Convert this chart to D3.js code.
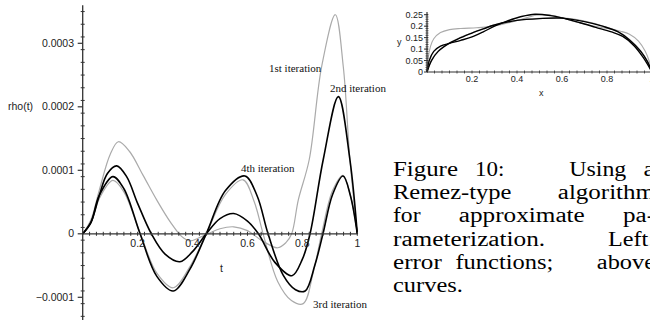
<!DOCTYPE html>
<html>
<head>
<meta charset="utf-8">
<script src="https://cdn.jsdelivr.net/npm/d3@7"></script>
<style>
  html, body { margin: 0; padding: 0; background: #fff; }
  svg { display: block; }
</style>
</head>
<body>
<svg id="fig" width="650" height="320"></svg>
<script>
// Error functions rho(t) for successive iterations: [t, rho]
const iter1 = [[0,0],[0.03,0.000022],[0.06,0.000068],[0.1,0.000125],[0.13,0.000145],[0.17,0.00013],[0.22,0.000092],[0.27,0.000053],[0.32,0.000018],[0.36,-0.000004],[0.39,-0.000011],[0.42,-0.000007],[0.456,0],[0.5,0.000008],[0.55,0.000011],[0.6,0.000005],[0.65,-0.00001],[0.71,-0.000022],[0.74,-0.000014],[0.761,0],[0.785,0.000053],[0.825,0.000117],[0.87,0.000263],[0.92,0.000345],[0.949,0.000263],[0.973,0.000117],[1,0]];
const iter2 = [[0,0],[0.03,0.000018],[0.06,0.00006],[0.09,0.000095],[0.124,0.000107],[0.16,0.00009],[0.2,0.000048],[0.25,0],[0.3,-0.000032],[0.354,-0.000044],[0.4,-0.000028],[0.45,0],[0.5,0.000024],[0.55,0.000032],[0.6,0.00002],[0.64,0],[0.7,-0.000045],[0.762,-0.000066],[0.8,-0.00004],[0.828,0],[0.876,0.000117],[0.931,0.000216],[0.973,0.000117],[1,0]];
const iter3 = [[0,0],[0.03,0.000017],[0.06,0.000055],[0.11,0.000084],[0.15,0.000066],[0.21,0],[0.27,-0.000062],[0.33,-0.000085],[0.39,-0.000052],[0.45,0],[0.52,0.000062],[0.584,0.000085],[0.625,0.00005],[0.657,0],[0.71,-0.000075],[0.76,-0.000105],[0.803,-0.00011],[0.84,-0.00006],[0.87,0],[0.91,0.000068],[0.948,0.000092],[0.975,0.00006],[1,0]];
const iter4 = [[0,0],[0.03,0.000018],[0.06,0.00006],[0.11,0.00009],[0.15,0.000071],[0.209,0],[0.27,-0.000067],[0.33,-0.00009],[0.39,-0.000056],[0.45,0],[0.52,0.000068],[0.591,0.000091],[0.635,0.00006],[0.675,0],[0.73,-0.000065],[0.775,-0.000088],[0.81,-0.00009],[0.845,-0.00005],[0.875,0],[0.91,0.000062],[0.948,0.000091],[0.975,0.00006],[1,0]];

// Curves (x, y) produced by each iteration
const curve1 = [[0,0],[0.005,0.06],[0.015,0.11],[0.03,0.145],[0.06,0.172],[0.1,0.185],[0.15,0.19],[0.22,0.193],[0.28,0.198],[0.35,0.212],[0.42,0.23],[0.5,0.25],[0.58,0.242],[0.65,0.222],[0.72,0.205],[0.8,0.19],[0.86,0.178],[0.9,0.165],[0.94,0.135],[0.97,0.09],[0.99,0.04],[1,0]];
const curve2 = [[0,0],[0.01,0.05],[0.03,0.09],[0.06,0.113],[0.1,0.125],[0.15,0.138],[0.2,0.153],[0.25,0.175],[0.3,0.2],[0.35,0.22],[0.42,0.242],[0.48,0.252],[0.55,0.246],[0.6,0.236],[0.68,0.215],[0.75,0.195],[0.82,0.175],[0.87,0.155],[0.92,0.115],[0.96,0.065],[1,0]];
const curve3 = [[0,0],[0.02,0.052],[0.05,0.092],[0.1,0.127],[0.15,0.152],[0.2,0.171],[0.25,0.189],[0.3,0.206],[0.4,0.226],[0.5,0.234],[0.6,0.236],[0.7,0.222],[0.78,0.201],[0.85,0.176],[0.9,0.142],[0.95,0.092],[0.98,0.046],[1,0]];
const curve4 = [[0,0],[0.02,0.05],[0.05,0.09],[0.1,0.126],[0.15,0.15],[0.2,0.17],[0.25,0.188],[0.3,0.205],[0.4,0.225],[0.5,0.233],[0.6,0.235],[0.7,0.22],[0.78,0.2],[0.85,0.175],[0.9,0.14],[0.95,0.09],[0.98,0.045],[1,0]];

const rhoTicks = [-0.0001, 0, 0.0001, 0.0002, 0.0003];
const rhoTickLabels = ["\u22120.0001", "0", "0.0001", "0.0002", "0.0003"];
const tTicks = [0.2, 0.4, 0.6, 0.8, 1];
const tTickLabels = ["0.2", "0.4", "0.6", "0.8", "1"];
const yTicks = [0, 0.05, 0.1, 0.15, 0.2, 0.25];
const yTickLabels = ["0", "0.05", "0.1", "0.15", "0.2", "0.25"];
const xTicks = [0.2, 0.4, 0.6, 0.8, 1];
const xTickLabels = ["0.2", "0.4", "0.6", "0.8", "1"];

const iterationNames = ["1st iteration", "2nd iteration", "3rd iteration", "4th iteration"];
const captionLines = [
  ["Figure", "10:", "Using", "a"],
  ["Remez-type", "algorithm"],
  ["for", "approximate", "pa-"],
  ["rameterization.", "Left:"],
  ["error", "functions;", "above"],
  ["curves."]
];

const GREY = "#aaaaaa", BLACK = "#000000", AXIS = "#333333";
const svg = d3.select("#fig");
const sans = "'Liberation Sans', Arial, sans-serif";
const serif = "'Liberation Serif', 'Times New Roman', serif";

// ---------- left: error functions ----------
const x = d3.scaleLinear().domain([0, 1]).range([82.7, 357.3]);
const y = d3.scaleLinear().domain([-0.0001, 0.0003]).range([297.3, 43.3]);
const left = svg.append("g");

const line = d3.line().x(d => x(d[0])).y(d => y(d[1])).curve(d3.curveCatmullRom.alpha(0.5));
const series = [
  { data: iter1, color: GREY, w: 1.2 },
  { data: iter3, color: GREY, w: 1.2 },
  { data: iter2, color: BLACK, w: 1.6 },
  { data: iter4, color: BLACK, w: 1.6 }
];
left.selectAll("path.err").data(series).join("path")
  .attr("class", "err")
  .attr("d", s => line(s.data))
  .attr("fill", "none").attr("stroke", s => s.color).attr("stroke-width", s => s.w);

// axes
const y0 = y(0), x0 = x(0);
left.append("line").attr("x1", x0).attr("x2", x(1)).attr("y1", y0).attr("y2", y0)
  .attr("stroke", AXIS).attr("stroke-width", 1.3);
left.append("line").attr("x1", x0).attr("x2", x0).attr("y1", y(0.00036)).attr("y2", 320)
  .attr("stroke", AXIS).attr("stroke-width", 1.3);

const yMinor = d3.range(-0.00013, 0.00036, 0.00002).map(v => +v.toFixed(6));
left.selectAll("line.ymin").data(yMinor).join("line").attr("class", "ymin")
  .attr("x1", x0 - 2).attr("x2", x0 + 2).attr("y1", d => y(d)).attr("y2", d => y(d))
  .attr("stroke", AXIS).attr("stroke-width", 1);
left.selectAll("line.ymaj").data(rhoTicks).join("line").attr("class", "ymaj")
  .attr("x1", x0 - 5).attr("x2", x0).attr("y1", d => y(d)).attr("y2", d => y(d))
  .attr("stroke", AXIS).attr("stroke-width", 1.2);
left.selectAll("text.ylab").data(rhoTicks).join("text").attr("class", "ylab")
  .attr("x", 74).attr("y", d => y(d)).attr("dy", "0.35em")
  .attr("text-anchor", "end").attr("font-family", sans).attr("font-size", 10.5).attr("fill", "#222")
  .text((d, i) => rhoTickLabels[i]);

const xMinor = d3.range(0.025, 1.0001, 0.025);
left.selectAll("line.xmin").data(xMinor).join("line").attr("class", "xmin")
  .attr("x1", d => x(d)).attr("x2", d => x(d)).attr("y1", y0 - 2).attr("y2", y0 + 2)
  .attr("stroke", AXIS).attr("stroke-width", 1);
left.selectAll("text.xlab").data(tTicks).join("text").attr("class", "xlab")
  .attr("x", d => x(d)).attr("y", y0 + 13)
  .attr("text-anchor", "middle").attr("font-family", sans).attr("font-size", 10.5).attr("fill", "#222")
  .text((d, i) => tTickLabels[i]);

left.append("text").attr("x", 8).attr("y", y(0.0002)).attr("dy", "0.35em")
  .attr("font-family", sans).attr("font-size", 10.5).attr("fill", "#222").text("rho(t)");
left.append("text").attr("x", 220).attr("y", 272)
  .attr("font-family", sans).attr("font-size", 10.5).attr("fill", "#222").text("t");

// iteration labels
const labelPos = [[269, 72], [330, 92], [313, 308], [241, 172]];
left.selectAll("text.iter").data(iterationNames).join("text").attr("class", "iter")
  .attr("x", (d, i) => labelPos[i][0]).attr("y", (d, i) => labelPos[i][1])
  .attr("font-family", serif).attr("font-size", 11).attr("fill", "#111").text(d => d);

// ---------- top right: curves ----------
const xs = d3.scaleLinear().domain([0, 1]).range([427, 652]);
const ys = d3.scaleLinear().domain([0, 0.25]).range([72, 14.7]);
const right = svg.append("g");
const line2 = d3.line().x(d => xs(d[0])).y(d => ys(d[1])).curve(d3.curveCatmullRom.alpha(0.5));
const cseries = [
  { data: curve1, color: GREY, w: 1.1 },
  { data: curve3, color: GREY, w: 1.1 },
  { data: curve2, color: BLACK, w: 1.4 },
  { data: curve4, color: BLACK, w: 1.4 }
];
right.selectAll("path.cur").data(cseries).join("path").attr("class", "cur")
  .attr("d", s => line2(s.data)).attr("fill", "none")
  .attr("stroke", s => s.color).attr("stroke-width", s => s.w);

const sx0 = xs(0), sy0 = ys(0);
right.append("line").attr("x1", sx0).attr("x2", 650).attr("y1", sy0).attr("y2", sy0)
  .attr("stroke", AXIS).attr("stroke-width", 1.2);
right.append("line").attr("x1", sx0).attr("x2", sx0).attr("y1", ys(0.262)).attr("y2", sy0)
  .attr("stroke", AXIS).attr("stroke-width", 1.2);
right.selectAll("line.symaj").data(yTicks).join("line").attr("class", "symaj")
  .attr("x1", sx0 - 3).attr("x2", sx0 + 1).attr("y1", d => ys(d)).attr("y2", d => ys(d))
  .attr("stroke", AXIS).attr("stroke-width", 1);
right.selectAll("line.symin").data(d3.range(0.01, 0.26, 0.01)).join("line").attr("class", "symin")
  .attr("x1", sx0 - 1.5).attr("x2", sx0 + 1.5).attr("y1", d => ys(d)).attr("y2", d => ys(d))
  .attr("stroke", AXIS).attr("stroke-width", 0.8);
right.selectAll("line.sxmin").data(d3.range(1 / 30, 1.0001, 1 / 30)).join("line").attr("class", "sxmin")
  .attr("x1", d => xs(d)).attr("x2", d => xs(d)).attr("y1", sy0 - 1.5).attr("y2", sy0 + 1.5)
  .attr("stroke", AXIS).attr("stroke-width", 0.8);
right.selectAll("text.sylab").data(yTicks).join("text").attr("class", "sylab")
  .attr("x", 423).attr("y", d => ys(d)).attr("dy", "0.35em").attr("text-anchor", "end")
  .attr("font-family", sans).attr("font-size", 9).attr("fill", "#222")
  .text((d, i) => yTickLabels[i]);
right.selectAll("text.sxlab").data(xTicks).join("text").attr("class", "sxlab")
  .attr("x", d => xs(d)).attr("y", 82).attr("text-anchor", "middle")
  .attr("font-family", sans).attr("font-size", 9).attr("fill", "#222")
  .text((d, i) => xTickLabels[i]);
right.append("text").attr("x", 397).attr("y", 45).attr("font-family", sans)
  .attr("font-size", 9).attr("fill", "#222").text("y");
right.append("text").attr("x", 539).attr("y", 96).attr("font-family", sans)
  .attr("font-size", 9).attr("fill", "#222").text("x");

// ---------- caption, justified between the margins ----------
// Word widths follow Computer Modern Roman advance widths (em units);
// inter-word glue stretches more after sentence punctuation.
const cmWidth = {
  a:.5,b:.556,c:.444,d:.556,e:.444,f:.306,g:.5,h:.556,i:.278,j:.306,k:.528,l:.278,m:.833,
  n:.556,o:.5,p:.556,q:.528,r:.392,s:.394,t:.389,u:.556,v:.528,w:.722,x:.528,y:.528,z:.444,
  F:.653,L:.625,R:.736,U:.75,"0":.5,"1":.5,":":.278,";":.278,".":.278,"-":.333
};
const capEm = 23;          // horizontal em
const capSize = 20;        // rendered font size
const wordWidth = w => d3.sum(Array.from(w), ch => cmWidth[ch] || 0.5) * capEm;
const cap = svg.append("g").attr("font-family", serif).attr("font-size", capSize).attr("fill", "#000");
const capLeft = 393, capRight = 655, capTop = 176, capStep = 23.2;
captionLines.forEach((words, li) => {
  const yy = capTop + li * capStep;
  const widths = words.map(wordWidth);
  const last = li === captionLines.length - 1;
  const natural = 0.333 * capEm;
  const stretch = words.slice(0, -1).map(w => /[.:;]$/.test(w) ? 6 : 1);
  const extra = capRight - capLeft - d3.sum(widths) - natural * (words.length - 1);
  const sumStretch = d3.sum(stretch) || 1;
  let cx = capLeft;
  words.forEach((w, i) => {
    cap.append("text").attr("x", cx).attr("y", yy)
      .attr("textLength", widths[i]).attr("lengthAdjust", "spacingAndGlyphs").text(w);
    if (i < words.length - 1) cx += widths[i] + natural + (last ? 0 : extra * stretch[i] / sumStretch);
  });
});
</script>
</body>
</html>
